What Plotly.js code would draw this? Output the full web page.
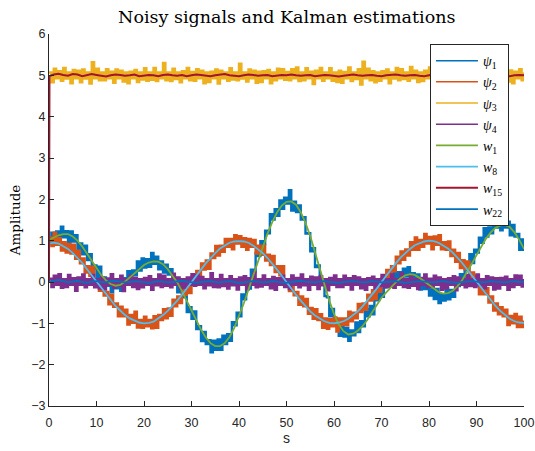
<!DOCTYPE html>
<html>
<head>
<meta charset="utf-8">
<script src="https://cdn.plot.ly/plotly-3.0.1.min.js"></script>
<style>html,body{margin:0;padding:0;background:#fff;}#chart{width:535px;height:451px;}</style>
</head>
<body>
<div id="chart"></div>
<script>
// Noisy signals sampled every 0.5 s from t = 0 to t = 100
const noisyStart = 0;
const noisyStep = 0.5;

const psi1 = [
0.93,1.19,0.94,1.22,1.09,1.34,1.08,1.23,0.96,1.22,
0.98,1.13,0.79,0.93,0.67,0.88,0.53,0.67,0.33,0.40,
0.11,0.37,-0.01,0.11,-0.09,0.08,-0.25,0.02,-0.15,0.06,
-0.21,0.09,-0.01,0.26,0.02,0.28,0.16,0.50,0.28,0.57,
0.35,0.55,0.37,0.70,0.44,0.61,0.31,0.50,0.23,0.42,
0.18,0.31,-0.03,0.10,-0.25,-0.04,-0.37,-0.31,-0.73,-0.61,
-0.89,-0.71,-1.14,-1.07,-1.43,-1.21,-1.50,-1.41,-1.70,-1.42,
-1.64,-1.39,-1.64,-1.30,-1.50,-1.26,-1.42,-0.97,-1.05,-0.74,
-0.83,-0.30,-0.42,-0.11,-0.16,0.30,0.25,0.70,0.63,0.99,
0.92,1.24,1.18,1.64,1.51,1.76,1.60,1.97,1.77,2.04,
1.90,2.22,1.73,1.94,1.69,1.85,1.51,1.57,1.17,1.18,
0.74,0.82,0.36,0.40,0.00,0.07,-0.34,-0.37,-0.83,-0.65,
-0.99,-0.90,-1.30,-1.09,-1.32,-1.11,-1.42,-1.17,-1.29,-0.98,
-1.21,-0.95,-1.07,-0.66,-0.83,-0.58,-0.78,-0.33,-0.44,-0.17,
-0.36,-0.06,-0.13,0.15,-0.06,0.29,0.05,0.24,0.04,0.32,
0.13,0.36,0.01,0.21,0.00,0.18,-0.18,0.03,-0.17,0.04,
-0.33,-0.18,-0.41,-0.17,-0.51,-0.30,-0.45,-0.15,-0.42,-0.19,
-0.36,0.00,-0.10,0.19,0.02,0.34,0.29,0.67,0.46,0.78,
0.71,1.07,0.95,1.30,1.10,1.32,1.18,1.51,1.32,1.51,
1.25,1.54,1.32,1.46,1.13,1.38,1.10,1.16,0.78,1.03,
0.75];

const psi2 = [
1.07,0.87,1.19,0.90,1.06,0.76,0.96,0.71,0.92,0.69,
0.90,0.56,0.76,0.45,0.57,0.23,0.38,0.15,0.37,-0.04,
0.07,-0.21,0.01,-0.33,-0.24,-0.54,-0.31,-0.60,-0.52,-0.83,
-0.60,-0.83,-0.67,-1.03,-0.80,-0.99,-0.72,-1.10,-0.92,-1.11,
-0.84,-1.07,-0.92,-1.12,-0.83,-1.11,-0.80,-0.92,-0.66,-0.88,
-0.64,-0.82,-0.43,-0.59,-0.35,-0.51,-0.13,-0.31,-0.09,-0.27,
0.13,0.01,0.27,0.06,0.45,0.30,0.52,0.32,0.69,0.58,
0.87,0.64,0.88,0.73,1.04,0.85,1.04,0.79,1.13,0.93,
1.11,0.85,1.06,0.78,1.04,0.85,1.02,0.69,0.88,0.66,
0.88,0.52,0.66,0.41,0.63,0.24,0.38,0.16,0.38,-0.04,
0.07,-0.22,0.00,-0.32,-0.24,-0.55,-0.35,-0.59,-0.41,-0.77,
-0.63,-0.89,-0.66,-0.92,-0.78,-1.11,-0.88,-1.13,-0.90,-1.07,
-0.86,-1.20,-0.88,-1.04,-0.88,-1.05,-0.72,-0.95,-0.74,-0.88,
-0.53,-0.73,-0.52,-0.67,-0.31,-0.45,-0.20,-0.41,-0.07,-0.24,
0.10,0.01,0.29,0.04,0.38,0.26,0.61,0.45,0.74,0.54,
0.79,0.64,0.96,0.78,1.08,0.78,1.02,0.85,1.16,0.93,
1.09,0.79,1.10,0.90,1.13,0.79,0.96,0.78,0.98,0.63,
0.78,0.49,0.70,0.34,0.53,0.31,0.50,0.09,0.23,-0.01,
0.15,-0.30,-0.09,-0.30,-0.15,-0.50,-0.35,-0.69,-0.52,-0.78,
-0.61,-0.83,-0.67,-1.04,-0.82,-1.00,-0.77,-1.09,-0.84,-1.09,
-0.93];

const psi3 = [
5.07,4.83,5.16,4.93,5.10,4.87,5.18,4.92,5.07,4.81,
5.13,4.93,5.11,4.83,5.14,4.92,5.07,4.80,5.32,4.93,
5.16,4.88,5.07,4.88,5.15,4.93,5.09,4.82,5.14,4.93,
5.11,4.85,5.07,4.81,5.09,4.93,5.13,4.84,5.07,4.90,
5.17,4.87,5.07,4.89,5.18,4.86,5.07,4.93,5.30,4.88,
5.07,4.86,5.16,4.91,5.07,4.83,5.10,4.93,5.18,4.88,
5.08,4.87,5.15,4.93,5.11,4.81,5.07,4.84,5.09,4.93,
5.14,4.80,5.11,4.93,5.07,4.87,5.17,4.90,5.07,4.88,
5.28,4.92,5.07,4.85,5.14,4.93,5.11,4.82,5.09,4.84,
5.10,4.93,5.13,4.81,5.07,4.88,5.16,4.93,5.15,4.89,
5.08,4.88,5.15,4.93,5.19,4.86,5.07,4.88,5.17,4.93,
5.09,4.79,5.11,4.93,5.18,4.87,5.07,4.93,5.17,4.87,
5.07,4.84,5.11,4.82,5.08,4.93,5.19,4.86,5.07,4.91,
5.15,4.78,5.33,4.93,5.16,4.88,5.10,4.83,5.07,4.87,
5.10,4.93,5.14,4.81,5.07,4.92,5.18,4.88,5.15,4.91,
5.07,4.87,5.20,4.93,5.11,4.84,5.07,4.86,5.11,4.93,
5.19,4.91,5.17,4.93,5.12,4.85,5.07,4.92,5.21,4.88,
5.07,4.87,5.17,4.90,5.07,4.84,5.14,4.92,5.07,4.82,
5.11,4.93,5.14,4.82,5.09,4.93,5.31,4.87,5.07,4.89,
5.16,4.93,5.07,4.85,5.12,4.81,5.09,4.93,5.15,4.88,
5.07];

const psi4 = [
0.08,-0.12,0.15,-0.07,0.19,-0.14,0.07,-0.12,0.17,-0.07,
0.09,-0.21,0.11,-0.07,0.18,-0.13,0.07,-0.07,0.17,-0.13,
0.07,-0.16,0.11,-0.18,0.08,-0.07,0.19,-0.14,0.07,-0.09,
0.15,-0.22,0.07,-0.07,0.16,-0.12,0.10,-0.17,0.07,-0.13,
0.10,-0.07,0.14,-0.19,0.07,-0.08,0.18,-0.12,0.15,-0.09,
0.07,-0.13,0.20,-0.07,0.11,-0.16,0.07,-0.14,0.11,-0.07,
0.19,-0.09,0.17,-0.07,0.12,-0.15,0.07,-0.08,0.21,-0.12,
0.07,-0.13,0.17,-0.10,0.07,-0.16,0.14,-0.08,0.07,-0.18,
0.11,-0.07,0.14,-0.18,0.09,-0.07,0.23,-0.13,0.07,-0.11,
0.16,-0.07,0.07,-0.15,0.12,-0.19,0.09,-0.07,0.15,-0.12,
0.07,-0.17,0.16,-0.07,0.10,-0.13,0.18,-0.08,0.07,-0.19,
0.13,-0.07,0.11,-0.17,0.14,-0.08,0.07,-0.20,0.10,-0.07,
0.16,-0.12,0.07,-0.12,0.15,-0.07,0.09,-0.18,0.14,-0.07,
0.11,-0.15,0.07,-0.19,0.09,-0.07,0.13,-0.16,0.07,-0.10,
0.17,-0.13,0.07,-0.11,0.18,-0.14,0.07,-0.07,0.22,-0.12,
0.07,-0.14,0.16,-0.09,0.07,-0.17,0.10,-0.07,0.18,-0.12,
0.08,-0.13,0.15,-0.07,0.11,-0.19,0.07,-0.16,0.09,-0.07,
0.14,-0.20,0.11,-0.07,0.07,-0.13,0.17,-0.10,0.07,-0.12,
0.18,-0.08,0.07,-0.15,0.14,-0.07,0.11,-0.18,0.09,-0.16,
0.10,-0.07,0.13,-0.19,0.07,-0.12,0.16,-0.07,0.15,-0.11,
0.07];

// Kalman estimates sampled every 1 s from t = 0 to t = 100
const estStart = 0;
const estStep = 1;

const w1 = [
1.02,1.07,1.13,1.16,1.16,1.10,1.00,0.86,0.69,0.51,
0.33,0.17,0.04,-0.05,-0.09,-0.07,0.01,0.11,0.22,0.32,
0.41,0.47,0.50,0.49,0.43,0.31,0.16,-0.01,-0.22,-0.46,
-0.70,-0.93,-1.15,-1.34,-1.48,-1.55,-1.55,-1.48,-1.33,-1.11,
-0.83,-0.52,-0.18,0.17,0.52,0.86,1.17,1.45,1.68,1.85,
1.94,1.95,1.87,1.69,1.43,1.11,0.73,0.33,-0.08,-0.45,
-0.77,-1.03,-1.19,-1.27,-1.25,-1.18,-1.07,-0.92,-0.74,-0.56,
-0.38,-0.25,-0.12,-0.01,0.09,0.16,0.19,0.17,0.10,0.01,
-0.08,-0.17,-0.24,-0.28,-0.27,-0.21,-0.10,0.05,0.23,0.44,
0.65,0.86,1.05,1.20,1.31,1.37,1.38,1.33,1.20,1.02,
0.80];

const w8 = [
0.93,0.95,0.93,0.87,0.80,0.70,0.59,0.46,0.31,0.16,
0.01,-0.15,-0.30,-0.44,-0.58,-0.69,-0.80,-0.88,-0.94,-0.98,
-1.00,-0.99,-0.96,-0.89,-0.80,-0.70,-0.58,-0.45,-0.31,-0.15,
0.00,0.15,0.30,0.45,0.58,0.70,0.81,0.89,0.95,0.98,
0.99,0.98,0.95,0.88,0.80,0.70,0.58,0.45,0.30,0.15,
-0.01,-0.16,-0.31,-0.45,-0.59,-0.71,-0.81,-0.89,-0.95,-0.99,
-1.00,-0.98,-0.95,-0.89,-0.81,-0.71,-0.59,-0.45,-0.31,-0.16,
0.00,0.16,0.31,0.45,0.59,0.70,0.80,0.89,0.94,0.98,
1.00,0.99,0.95,0.89,0.81,0.71,0.59,0.46,0.31,0.16,
0.00,-0.15,-0.30,-0.45,-0.58,-0.70,-0.80,-0.89,-0.95,-0.98,
-0.99];

const w15Time = [
0,0.1,1,2,3,4,5,6,7,8,
9,10,11,12,13,14,15,16,17,18,
19,20,21,22,23,24,25,26,27,28,
29,30,31,32,33,34,35,36,37,38,
39,40,41,42,43,44,45,46,47,48,
49,50,51,52,53,54,55,56,57,58,
59,60,61,62,63,64,65,66,67,68,
69,70,71,72,73,74,75,76,77,78,
79,80,81,82,83,84,85,86,87,88,
89,90,91,92,93,94,95,96,97,98,
99,100];

const w15 = [
0.00,4.98,5.02,5.04,5.01,4.99,5.03,5.02,4.98,5.00,
5.03,5.01,4.99,4.97,5.00,5.02,5.01,4.99,5.00,5.02,
4.98,4.99,5.01,5.00,4.98,5.01,5.02,5.00,4.99,5.01,
4.98,5.00,5.02,5.01,4.99,4.98,5.00,5.01,5.03,5.00,
4.99,4.98,5.00,5.02,5.01,4.99,5.00,5.01,4.98,4.99,
5.01,5.00,5.02,5.00,4.99,5.00,5.01,4.98,4.99,5.01,
5.00,4.98,4.97,4.99,5.01,5.02,5.00,4.99,5.00,5.01,
4.99,4.98,5.00,5.01,5.02,5.00,4.99,5.00,5.01,4.99,
4.98,5.00,5.02,5.01,4.99,5.00,4.98,4.99,5.01,5.00,
5.02,5.01,4.99,5.00,4.98,5.00,5.01,4.99,4.98,5.00,
5.01,5.00];

const w22 = [
0.00,0.03,0.05,0.02,-0.01,0.01,0.03,0.00,-0.02,0.01,
0.02,0.00,-0.01,0.02,0.03,0.01,-0.01,0.00,0.02,0.01,
-0.01,-0.02,0.00,0.02,0.01,-0.01,0.00,0.01,0.03,0.01,
-0.01,-0.02,0.00,0.01,0.02,0.00,-0.01,0.01,0.02,0.00,
-0.02,-0.01,0.01,0.02,0.01,-0.01,0.00,0.02,0.01,-0.01,
-0.02,0.00,0.01,0.03,0.01,0.00,-0.01,0.01,0.02,0.00,
-0.01,-0.02,0.00,0.01,0.02,0.01,-0.01,0.00,0.02,0.01,
-0.01,0.00,0.01,0.02,0.00,-0.02,-0.01,0.01,0.02,0.01,
0.00,-0.01,0.01,0.02,0.00,-0.01,-0.02,0.00,0.01,0.02,
0.01,-0.01,0.00,0.02,0.01,0.00,-0.01,0.01,0.02,0.00,
0.01];

const seriesNames = ['<i>ψ</i><sub>1</sub>','<i>ψ</i><sub>2</sub>','<i>ψ</i><sub>3</sub>','<i>ψ</i><sub>4</sub>',
  '<i>w</i><sub>1</sub>','<i>w</i><sub>8</sub>','<i>w</i><sub>15</sub>','<i>w</i><sub>22</sub>'];
const seriesColors = ['#0072BD','#D95319','#EDB120','#7E2F8E','#77AC30','#4DBEEE','#A2142F','#0072BD'];

const noisy = [psi1, psi2, psi3, psi4];
const traces = [];
// noisy signals: drawn as dense step traces; their legend keys are thin lines (below)
noisy.forEach((y, k) => {
  traces.push({type:'scatter', mode:'lines', x0:noisyStart, dx:noisyStep, y:y,
    name:seriesNames[k], showlegend:false, legendgroup:'g'+k,
    line:{color:seriesColors[k], width:2.4, shape:'hv'}});
});
traces.push({type:'scatter', mode:'lines', x0:estStart, dx:estStep, y:w1, name:seriesNames[4], legendrank:5, line:{color:seriesColors[4], width:1.8}});
traces.push({type:'scatter', mode:'lines', x0:estStart, dx:estStep, y:w8, name:seriesNames[5], legendrank:6, line:{color:seriesColors[5], width:1.8}});
traces.push({type:'scatter', mode:'lines', x:w15Time, y:w15, name:seriesNames[6], legendrank:7, line:{color:seriesColors[6], width:2}});
traces.push({type:'scatter', mode:'lines', x0:estStart, dx:estStep, y:w22, name:seriesNames[7], legendrank:8, line:{color:seriesColors[7], width:1.8}});
// legend keys for the noisy signals (no marks drawn)
noisy.forEach((y, k) => {
  traces.push({type:'scatter', mode:'lines', x:[null], y:[null], name:seriesNames[k],
    legendgroup:'g'+k, legendrank:k+1, line:{color:seriesColors[k], width:1.5}});
});

const axisCommon = {
  showline:true, linecolor:'#262626', linewidth:1, mirror:false,
  showgrid:false, zeroline:false,
  ticks:'inside', ticklen:5, tickcolor:'#262626', tickwidth:1,
  tickfont:{family:'Liberation Sans, Arial, sans-serif', size:12.5, color:'#262626'}
};

const layout = {
  width:535, height:451,
  margin:{l:49, r:11, t:34, b:45},
  paper_bgcolor:'#ffffff', plot_bgcolor:'#ffffff',
  title:{text:'Noisy signals and Kalman estimations', x:0.536, xanchor:'center', y:0.962, yanchor:'middle',
    font:{family:'DejaVu Serif, serif', size:17.5, color:'#000000'}},
  xaxis:Object.assign({}, axisCommon, {range:[0,100], dtick:10, tick0:0, ticklabelstandoff:5,
    title:{text:'s', standoff:2, font:{family:'Liberation Sans, Arial, sans-serif', size:14, color:'#262626'}}}),
  yaxis:Object.assign({}, axisCommon, {range:[-3,6], dtick:1, tick0:0,
    title:{text:'Amplitude', standoff:7, font:{family:'DejaVu Serif, serif', size:13.5, color:'#000000'}}}),
  showlegend:true,
  legend:{x:0.802, y:0.973, xanchor:'left', yanchor:'top', bgcolor:'#ffffff', bordercolor:'#262626', borderwidth:1,
    traceorder:'normal',
    font:{family:'Liberation Serif, DejaVu Serif, serif', size:14, color:'#000000'}, tracegroupgap:0, itemwidth:42}
};

Plotly.newPlot('chart', traces, layout, {displayModeBar:false, staticPlot:true});
</script>
</body>
</html>
